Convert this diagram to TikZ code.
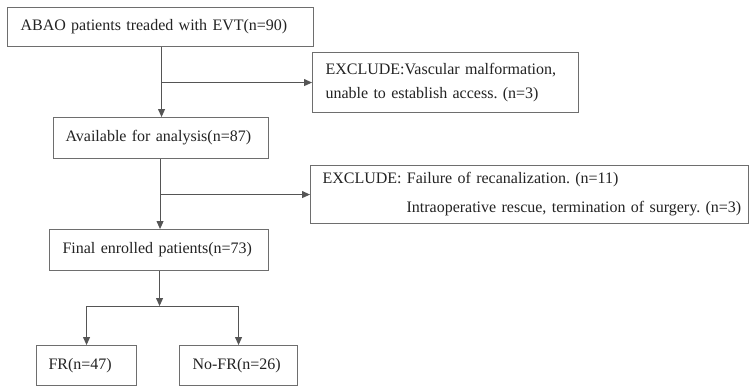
\documentclass[tikz,border=0pt]{standalone}
\usepackage{fontspec}
\setmainfont{Liberation Serif}
\usetikzlibrary{arrows.meta}
\definecolor{linec}{RGB}{85,85,85}
\definecolor{boxc}{RGB}{110,110,110}
\definecolor{textc}{RGB}{35,35,35}
\tikzset{
  box/.style={draw=boxc, line width=1.1pt, anchor=north west, inner ysep=0pt,
    align=left, text=textc, font=\frenchspacing\fontsize{16}{24}\selectfont},
  conn/.style={draw=linec, line width=0.9pt},
  arr/.style={conn, -{Triangle[length=8pt,width=7pt]}}
}
\begin{document}
\begin{tikzpicture}[x=1pt,y=1pt]
\useasboundingbox[fill=white] (0,0) rectangle (751,-386);
\node[box, minimum height=39pt, inner xsep=13pt, text width=280pt] (b1) at (7,-7) {ABAO patients treaded with EVT(n=90)};
\node[box, minimum height=60pt, inner xsep=13pt, text width=240pt] (e1) at (312,-52) {\mbox{EXCLUDE:Vascular malformation,}\\\mbox{unable to establish access. (n=3)}};
\node[box, minimum height=41pt, inner xsep=12pt, text width=191pt] (b2) at (53,-117) {\mbox{Available for analysis(n=87)}};
\node[box, minimum height=58pt, inner xsep=12pt, text width=414pt, font=\frenchspacing\fontsize{16}{29}\selectfont] (e2) at (310,-165) {\mbox{EXCLUDE: Failure of recanalization. (n=11)}\\\mbox{\hspace*{84pt}Intraoperative rescue, termination of surgery. (n=3)}};
\node[box, minimum height=41pt, inner xsep=13pt, text width=193pt] (b3) at (49,-229) {\mbox{Final enrolled patients(n=73)}};
\node[box, minimum height=40pt, inner xsep=12pt, text width=76pt] (fr) at (36,-345) {\mbox{FR(n=47)}};
\node[box, minimum height=40pt, inner xsep=13pt, text width=92pt] (nofr) at (179,-345) {\mbox{No-FR(n=26)}};
\coordinate (s1) at ([xshift=1pt]b1.south);
\coordinate (s2) at ([xshift=-1pt]b2.south);
\coordinate (s3) at ([xshift=0.5pt]b3.south);
\coordinate (split) at (s3 |- 0,-306);
\draw[arr] (s1) -- (s1 |- b2.north);
\draw[arr] (s1 |- e1.west) -- (e1.west);
\draw[arr] (s2) -- (s2 |- b3.north);
\draw[arr] (s2 |- e2.west) -- (e2.west);
\draw[arr] (s3) -- (split);
\draw[conn] (split -| fr.north) -- (split -| nofr.north);
\draw[arr] (split -| fr.north) -- (fr.north);
\draw[arr] (split -| nofr.north) -- (nofr.north);
\end{tikzpicture}
\end{document}
